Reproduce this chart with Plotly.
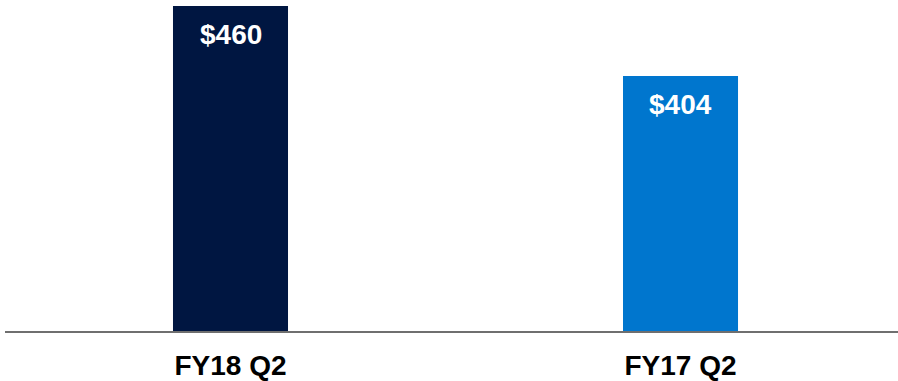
import plotly.graph_objects as go

categories = ["FY18 Q2", "FY17 Q2"]
values = [460, 404]
labels = ["$460", "$404"]
colors = ["#001641", "#0076CE"]

fig = go.Figure()
fig.add_trace(go.Bar(
    x=[0, 1], y=values, width=0.2556,
    marker=dict(color=colors, line=dict(width=0)),
    hoverinfo="skip",
))

for i, (v, t) in enumerate(zip(values, labels)):
    fig.add_annotation(
        x=i, y=v, text="<b>%s</b>" % t, showarrow=False, yanchor="top", yshift=-11,
        font=dict(family="Liberation Sans, Arial, sans-serif", size=28, color="white"),
    )

fig.update_layout(
    width=898, height=381,
    margin=dict(l=5, r=0, t=0, b=50),
    paper_bgcolor="white", plot_bgcolor="white",
    showlegend=False,
    font=dict(family="Liberation Sans, Arial, sans-serif"),
    xaxis=dict(
        range=[-0.5011, 1.4833], tickmode="array", tickvals=[0, 1],
        ticktext=["<b>%s</b>" % c for c in categories],
        tickfont=dict(size=28, color="black"),
        ticklabelstandoff=8,
        showgrid=False, zeroline=False, showline=True,
        linecolor="#6f6f6f", linewidth=2, ticks="",
    ),
    yaxis=dict(range=[200, 464.8], visible=False, showgrid=False, zeroline=False),
)

fig.write_html("out.html")
